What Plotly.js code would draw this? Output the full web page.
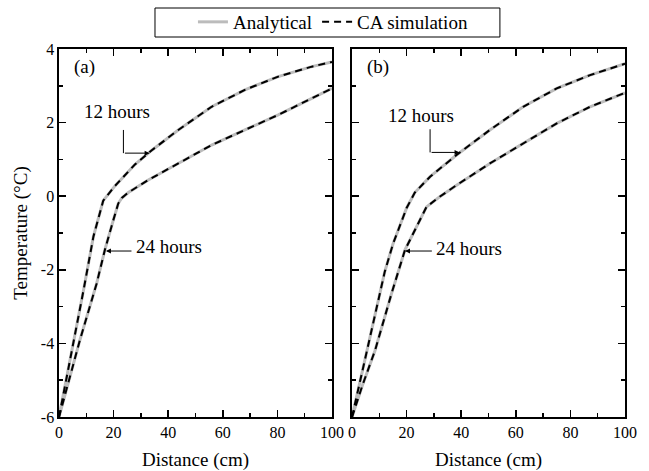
<!DOCTYPE html>
<html>
<head>
<meta charset="utf-8">
<script src="https://cdn.plot.ly/plotly-3.0.1.min.js"></script>
<style>
  html, body { margin: 0; padding: 0; background: #fff; }
  #chart { width: 649px; height: 471px; }
</style>
</head>
<body>
<div id="chart"></div>
<script>
// Temperature profiles (°C) versus distance (cm) after 12 and 24 hours.
// Panel (a)
const distA12 = [0, 5.5, 9, 12.6, 15, 16.2, 20.5, 27.8, 34, 43.7, 55.9, 68.1, 80.3, 92.6, 100];
const tempA12 = [-6, -3.95, -2.55, -1.1, -0.4, -0.12, 0.28, 0.86, 1.25, 1.80, 2.43, 2.89, 3.25, 3.52, 3.65];
const distA24 = [0, 7.7, 13.8, 16.8, 19.9, 21.7, 23, 25.4, 32.7, 43.7, 55.9, 68.1, 80.3, 92.6, 100];
const tempA24 = [-6, -3.9, -2.37, -1.46, -0.65, -0.2, -0.05, 0.1, 0.44, 0.89, 1.39, 1.80, 2.21, 2.66, 2.93];
// Panel (b)
const distB12 = [0, 3, 6, 9, 12, 15, 18, 20, 23, 28.6, 38.3, 50.5, 62.7, 75, 87.2, 100];
const tempB12 = [-6, -5.0, -4.05, -3.0, -2.05, -1.3, -0.7, -0.32, 0.1, 0.53, 1.12, 1.80, 2.43, 2.93, 3.29, 3.6];
const distB24 = [0, 4, 8.4, 14.5, 19.4, 24.3, 27.3, 32, 38.3, 50.5, 62.7, 75, 87.2, 100];
const tempB24 = [-6, -5.1, -4.2, -2.64, -1.46, -0.74, -0.29, -0.02, 0.30, 0.89, 1.44, 1.98, 2.43, 2.81];

const seriesNames = ['Analytical', 'CA simulation'];
const xTickVals = [0, 20, 40, 60, 80, 100];
const yTickVals = [-6, -4, -2, 0, 2, 4];

const FONT = 'Liberation Serif';
const analyticalLine = { color: '#bcbcbc', width: 3 };
const caLine = { color: '#000000', width: 2, dash: '7px,5px' };

const panels = [
  { xa: 'x', ya: 'y', curves: [[distA12, tempA12], [distA24, tempA24]] },
  { xa: 'x2', ya: 'y2', curves: [[distB12, tempB12], [distB24, tempB24]] }
];

const traces = [];
panels.forEach((p, pi) => {
  // gray analytical curves underneath, dashed CA curves on top
  p.curves.forEach((c, ci) => {
    traces.push({
      x: c[0], y: c[1], xaxis: p.xa, yaxis: p.ya, type: 'scatter', mode: 'lines',
      name: seriesNames[0], legendgroup: 'an', showlegend: pi === 0 && ci === 0,
      line: analyticalLine, hoverinfo: 'skip'
    });
  });
  p.curves.forEach((c, ci) => {
    traces.push({
      x: c[0], y: c[1], xaxis: p.xa, yaxis: p.ya, type: 'scatter', mode: 'lines',
      name: seriesNames[1], legendgroup: 'ca', showlegend: pi === 0 && ci === 0,
      line: caLine, hoverinfo: 'skip'
    });
  });
});

function xAxis(domain, anchor) {
  return {
    domain: domain, anchor: anchor, range: [0, 100],
    tickvals: xTickVals, ticktext: xTickVals.map(String),
    ticks: 'inside', ticklen: 7, tickwidth: 1.5, tickcolor: '#000',
    minor: { dtick: 10, ticks: 'inside', ticklen: 4, tickwidth: 1.5, tickcolor: '#000' },
    showline: true, linecolor: '#000', linewidth: 1.6, mirror: 'allticks',
    showgrid: false, zeroline: false,
    tickfont: { family: FONT, size: 16, color: '#000' },
    title: { text: 'Distance (cm)', font: { family: FONT, size: 19, color: '#000' }, standoff: 14 }
  };
}
function yAxis(anchor, showLabels) {
  return {
    domain: [0, 1], anchor: anchor, range: [-6, 4],
    tickvals: yTickVals, ticktext: yTickVals.map(String),
    showticklabels: showLabels,
    ticks: 'inside', ticklen: 7, tickwidth: 1.5, tickcolor: '#000',
    minor: { dtick: 1, ticks: 'inside', ticklen: 4, tickwidth: 1.5, tickcolor: '#000' },
    showline: true, linecolor: '#000', linewidth: 1.6, mirror: 'allticks',
    showgrid: false, zeroline: false,
    tickfont: { family: FONT, size: 16, color: '#000' },
    title: showLabels ? { text: 'Temperature (°C)', font: { family: FONT, size: 19, color: '#000' }, standoff: 8 } : { text: '' }
  };
}

const txtFont = { family: FONT, size: 19, color: '#000' };
function label(xref, yref, x, y, text) {
  return { xref: xref, yref: yref, x: x, y: y, text: text, showarrow: false,
           xanchor: 'center', yanchor: 'middle', font: txtFont };
}
function arrow(xref, yref, x, y, ax, ay) {
  return { xref: xref, yref: yref, axref: xref, ayref: yref, x: x, y: y, ax: ax, ay: ay,
           text: '', showarrow: true, arrowhead: 2, arrowsize: 1, arrowwidth: 1,
           arrowcolor: '#000', standoff: 0, startstandoff: 0 };
}

const annotations = [
  label('x', 'y', 9.5, 3.5, '(a)'),
  label('x2', 'y2', 9.5, 3.5, '(b)'),
  label('x', 'y', 21.2, 2.29, '12 hours'),
  arrow('x', 'y', 33.2, 1.17, 23.6, 1.17),
  label('x', 'y', 40.3, -1.38, '24 hours'),
  arrow('x', 'y', 17.2, -1.49, 27.1, -1.49),
  label('x2', 'y2', 25.1, 2.18, '12 hours'),
  arrow('x2', 'y2', 39.4, 1.19, 28.6, 1.19),
  label('x2', 'y2', 42.8, -1.43, '24 hours'),
  arrow('x2', 'y2', 19.4, -1.49, 29.8, -1.49)
];

const shapes = [
  // vertical legs of the elbow leaders pointing at the 12-hour curves
  { type: 'line', xref: 'x', yref: 'y', x0: 23.6, x1: 23.6, y0: 1.80, y1: 1.17, line: { color: '#000', width: 1 } },
  { type: 'line', xref: 'x2', yref: 'y2', x0: 28.6, x1: 28.6, y0: 1.82, y1: 1.19, line: { color: '#000', width: 1 } },
  // frame around the legend
  { type: 'rect', xref: 'paper', yref: 'paper', x0: 0.1696, x1: 0.779, y0: 1.0326, y1: 1.1114,
    line: { color: '#000', width: 1 }, fillcolor: 'rgba(0,0,0,0)' }
];

const layout = {
  width: 649, height: 471,
  margin: { l: 59, r: 24, t: 49, b: 54, autoexpand: false },
  paper_bgcolor: '#fff', plot_bgcolor: '#fff',
  font: { family: FONT, color: '#000' },
  showlegend: true,
  legend: {
    orientation: 'h', x: 0.484, xanchor: 'center', y: 1.125, yanchor: 'top',
    borderwidth: 0, bgcolor: 'rgba(0,0,0,0)',
    font: { family: FONT, size: 19, color: '#000' },
    traceorder: 'normal', itemwidth: 30, tracegroupgap: 0
  },
  xaxis: xAxis([0, 0.4823], 'y'),
  yaxis: yAxis('x', true),
  xaxis2: xAxis([0.5177, 1], 'y2'),
  yaxis2: yAxis('x2', false),
  annotations: annotations,
  shapes: shapes
};

Plotly.newPlot('chart', traces, layout, { displayModeBar: false, staticPlot: true });
</script>
</body>
</html>
